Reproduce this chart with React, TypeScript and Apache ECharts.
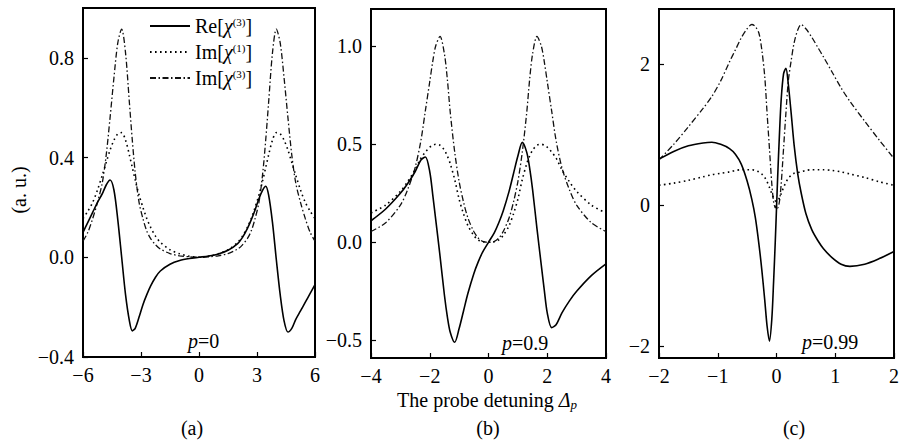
import React, { useEffect, useRef } from 'react';
import * as echarts from 'echarts';

const FONT = 'Liberation Serif, Times New Roman, serif';

const seriesNames = ['Re[χ(3)]', 'Im[χ(1)]', 'Im[χ(3)]'];

// ---------- panel (a), p = 0 ----------
const xA = [-6, -5.75, -5.5, -5.25, -5, -4.8, -4.6, -4.4, -4.2, -4, -3.8, -3.6, -3.45, -3.3, -3.1, -2.9, -2.7, -2.5, -2.25, -2, -1.5, -1, -0.5,
  0, 0.5, 1, 1.5, 2, 2.25, 2.5, 2.7, 2.9, 3.1, 3.3, 3.45, 3.6, 3.8, 4, 4.2, 4.4, 4.6, 4.8, 5, 5.25, 5.5, 5.75, 6];
const reA = [0.10, 0.14, 0.18, 0.22, 0.255, 0.29, 0.31, 0.27, 0.15, 0.0, -0.15, -0.255, -0.295, -0.285, -0.24, -0.19, -0.15, -0.115, -0.08, -0.055, -0.028, -0.013, -0.005,
  0, 0.005, 0.013, 0.028, 0.055, 0.08, 0.115, 0.15, 0.19, 0.235, 0.27, 0.285, 0.25, 0.14, -0.01, -0.15, -0.255, -0.30, -0.285, -0.25, -0.215, -0.18, -0.145, -0.11];
const im1A = [0.155, 0.185, 0.22, 0.27, 0.33, 0.38, 0.43, 0.47, 0.495, 0.50, 0.47, 0.41, 0.36, 0.31, 0.25, 0.20, 0.155, 0.12, 0.085, 0.06, 0.03, 0.014, 0.004,
  0, 0.004, 0.014, 0.03, 0.06, 0.085, 0.12, 0.155, 0.20, 0.25, 0.31, 0.36, 0.41, 0.47, 0.50, 0.495, 0.47, 0.43, 0.38, 0.33, 0.27, 0.22, 0.185, 0.155];
const im3A = [0.065, 0.10, 0.155, 0.22, 0.30, 0.41, 0.56, 0.72, 0.86, 0.915, 0.82, 0.62, 0.47, 0.34, 0.22, 0.155, 0.105, 0.075, 0.05, 0.033, 0.015, 0.006, 0.002,
  0, 0.002, 0.006, 0.015, 0.033, 0.05, 0.075, 0.105, 0.155, 0.22, 0.34, 0.47, 0.62, 0.82, 0.915, 0.86, 0.72, 0.56, 0.41, 0.30, 0.22, 0.155, 0.10, 0.065];

// ---------- panel (b), p = 0.9 ----------
const xB = [-4, -3.5, -3, -2.75, -2.5, -2.3, -2.15, -2, -1.9, -1.8, -1.65, -1.5, -1.4, -1.3, -1.15, -1, -0.85, -0.7, -0.5, -0.35, -0.2,
  0, 0.2, 0.35, 0.5, 0.7, 0.85, 1, 1.15, 1.3, 1.4, 1.5, 1.65, 1.8, 1.9, 2, 2.15, 2.3, 2.5, 2.75, 3, 3.5, 4];
const reB = [0.11, 0.17, 0.25, 0.30, 0.36, 0.42, 0.435, 0.36, 0.245, 0.12, -0.07, -0.27, -0.38, -0.46, -0.51, -0.44, -0.35, -0.26, -0.16, -0.10, -0.05,
  0, 0.05, 0.10, 0.16, 0.26, 0.35, 0.44, 0.51, 0.46, 0.38, 0.27, 0.07, -0.12, -0.245, -0.36, -0.435, -0.42, -0.36, -0.30, -0.25, -0.17, -0.11];
const im1B = [0.15, 0.19, 0.26, 0.31, 0.37, 0.43, 0.46, 0.485, 0.495, 0.50, 0.495, 0.47, 0.44, 0.40, 0.32, 0.22, 0.145, 0.085, 0.035, 0.012, 0.003,
  0, 0.003, 0.012, 0.035, 0.085, 0.145, 0.22, 0.32, 0.40, 0.44, 0.47, 0.495, 0.50, 0.495, 0.485, 0.46, 0.43, 0.37, 0.31, 0.26, 0.19, 0.15];
const im3B = [0.055, 0.10, 0.19, 0.27, 0.38, 0.52, 0.67, 0.82, 0.92, 1.0, 1.05, 0.96, 0.83, 0.66, 0.46, 0.31, 0.205, 0.124, 0.055, 0.022, 0.005,
  0, 0.005, 0.022, 0.055, 0.124, 0.205, 0.31, 0.46, 0.66, 0.83, 0.96, 1.05, 1.0, 0.92, 0.82, 0.67, 0.52, 0.38, 0.27, 0.19, 0.10, 0.055];

// ---------- panel (c), p = 0.99 ----------
const xC = [-2, -1.75, -1.5, -1.25, -1.1, -0.95, -0.8, -0.7, -0.6, -0.5, -0.42, -0.36, -0.3, -0.25, -0.2, -0.16, -0.12, -0.08, -0.05, -0.02,
  0, 0.02, 0.05, 0.08, 0.12, 0.16, 0.2, 0.25, 0.3, 0.36, 0.42, 0.5, 0.6, 0.7, 0.8, 0.95, 1.1, 1.25, 1.5, 1.75, 2];
const reC = [0.65, 0.76, 0.84, 0.88, 0.89, 0.86, 0.80, 0.72, 0.58, 0.34, 0.08, -0.18, -0.55, -0.92, -1.35, -1.72, -1.93, -1.62, -1.1, -0.5,
  -0.05, 0.4, 1.0, 1.5, 1.86, 1.94, 1.72, 1.3, 0.85, 0.45, 0.17, -0.12, -0.35, -0.5, -0.62, -0.75, -0.84, -0.87, -0.84, -0.76, -0.66];
const im1C = [0.28, 0.31, 0.35, 0.40, 0.43, 0.45, 0.47, 0.49, 0.50, 0.50, 0.50, 0.49, 0.47, 0.44, 0.39, 0.33, 0.25, 0.16, 0.10, 0.06,
  0.05, 0.06, 0.10, 0.16, 0.25, 0.32, 0.38, 0.42, 0.45, 0.46, 0.47, 0.49, 0.50, 0.50, 0.50, 0.49, 0.47, 0.44, 0.39, 0.33, 0.28];
const im3C = [0.64, 0.86, 1.11, 1.37, 1.54, 1.76, 2.03, 2.2, 2.37, 2.5, 2.56, 2.53, 2.44, 2.2, 1.82, 1.3, 0.8, 0.3, 0.05, -0.04,
  0.0, -0.04, 0.05, 0.3, 0.8, 1.3, 1.75, 2.05, 2.3, 2.48, 2.56, 2.5, 2.38, 2.24, 2.1, 1.88, 1.66, 1.47, 1.19, 0.92, 0.66];

// tick values
const xTicksA = [-6, -3, 0, 3, 6];
const yTicksA = [-0.4, 0, 0.4, 0.8];
const xTicksB = [-4, -2, 0, 2, 4];
const yTicksB = [-0.5, 0, 0.5, 1.0];
const xTicksC = [-2, -1, 0, 1, 2];
const yTicksC = [-2, 0, 2];

const panelTags = ['(a)', '(b)', '(c)'];
const pLabels = ['0', '0.9', '0.99'];

const zip = (xs: number[], ys: number[]) => xs.map((x, i) => [x, ys[i]]);
const fmt = (digits: number) => (v: number) => {
  const s = Math.abs(v).toFixed(digits);
  return v < 0 ? '\u2212' + s : s;
};

const lineStyles = [
  { color: '#000', width: 1.6, type: 'solid' },
  { color: '#000', width: 1.6, type: [1.6, 3.4], cap: 'butt' },
  { color: '#111', width: 1.3, type: [6, 2.5, 1.5, 2.5], cap: 'butt' },
];

function xAxis(gi: number, min: number, max: number, ticks: number[]) {
  return {
    gridIndex: gi, type: 'value', min, max,
    axisLine: { show: false, onZero: false },
    splitLine: { show: false },
    axisTick: { show: true, inside: true, length: 5, customValues: ticks, lineStyle: { color: '#000', width: 1.2 } },
    axisLabel: { customValues: ticks, formatter: fmt(0), margin: 8, color: '#000', fontFamily: FONT, fontSize: 20 },
  };
}
function yAxis(gi: number, min: number, max: number, ticks: number[], digits: number) {
  return {
    gridIndex: gi, type: 'value', min, max,
    axisLine: { show: false, onZero: false },
    splitLine: { show: false },
    axisTick: { show: true, inside: true, length: 5, customValues: ticks, lineStyle: { color: '#000', width: 1.2 } },
    axisLabel: { customValues: ticks, formatter: fmt(digits), margin: 9, color: '#000', fontFamily: FONT, fontSize: 20 },
  };
}

function makeSeries(gi: number, xs: number[], ys: number[][]) {
  return ys.map((y, k) => ({
    name: seriesNames[k],
    type: 'line',
    xAxisIndex: gi,
    yAxisIndex: gi,
    data: zip(xs, y),
    smooth: 0.3,
    symbol: 'none',
    showSymbol: false,
    color: '#000',
    itemStyle: { color: '#000' },
    lineStyle: lineStyles[k],
    z: 3 - k,
  }));
}

const legendRich: Record<string, string> = {
  'Re[χ(3)]': 'Re[{i|χ}{sup|(3)}]',
  'Im[χ(1)]': 'Im[{i|χ}{sup|(1)}]',
  'Im[χ(3)]': 'Im[{i|χ}{sup|(3)}]',
};

export default function App() {
  const ref = useRef<HTMLDivElement>(null);
  useEffect(() => {
    if (!ref.current) return;
    const chart = echarts.init(ref.current, undefined, { renderer: 'svg' });
    const grids = [
      { left: 83, top: 8, width: 232, height: 349 },
      { left: 371, top: 9, width: 235, height: 349 },
      { left: 659, top: 9, width: 235, height: 349 },
    ].map((g) => ({ ...g, show: true, borderColor: '#000', borderWidth: 2, backgroundColor: 'transparent', outerBoundsMode: 'none', containLabel: false }));

    const textBase = { fill: '#000', fontFamily: FONT, fontSize: 20 };
    const italic = { fontStyle: 'italic', fontFamily: FONT, fontSize: 20, fill: '#000' };
    const upright = { fontFamily: FONT, fontSize: 20, fill: '#000' };
    const tagX = [192, 488, 794];
    const pPos = [[188, 341], [502, 343], [802, 342]];

    const option: any = {
      animation: false,
      backgroundColor: '#fff',
      color: ['#000', '#000', '#000'],
      textStyle: { fontFamily: FONT, color: '#000' },
      grid: grids,
      xAxis: [xAxis(0, -6, 6, xTicksA), xAxis(1, -4, 4, xTicksB), xAxis(2, -2, 2, xTicksC)],
      yAxis: [yAxis(0, -0.4, 1.0, yTicksA, 1), yAxis(1, -0.59, 1.19, yTicksB, 1), yAxis(2, -2.17, 2.78, yTicksC, 0)],
      legend: {
        data: seriesNames,
        orient: 'vertical',
        left: 149,
        top: 16,
        padding: 0,
        itemWidth: 40,
        itemHeight: 14,
        itemGap: 6,
        selectedMode: false,
        itemStyle: { opacity: 0 },
        formatter: (n: string) => legendRich[n],
        textStyle: {
          color: '#000', fontFamily: FONT, fontSize: 20,
          rich: {
            i: { fontStyle: 'italic', fontFamily: FONT, fontSize: 20, color: '#000' },
            sup: { fontFamily: FONT, fontSize: 11, color: '#000', padding: [0, 0, 9, 0] },
          },
        },
      },
      series: [
        ...makeSeries(0, xA, [reA, im1A, im3A]),
        ...makeSeries(1, xB, [reB, im1B, im3B]),
        ...makeSeries(2, xC, [reC, im1C, im3C]),
      ],
      graphic: [
        { type: 'text', x: 19, y: 190, rotation: Math.PI / 2, style: { ...textBase, text: '(a. u.)', align: 'center', verticalAlign: 'middle' } },
        {
          type: 'text', x: 487, y: 400,
          style: {
            ...textBase, text: '{r|The probe detuning }{d|Δ}{s|p}', align: 'center', verticalAlign: 'middle',
            rich: {
              r: { ...upright },
              d: { ...italic },
              s: { ...italic, fontSize: 13, padding: [9, 0, 0, 0] },
            },
          },
        },
        ...panelTags.map((t, i) => ({ type: 'text', x: tagX[i], y: 428, style: { ...textBase, text: t, align: 'center', verticalAlign: 'middle' } })),
        ...pLabels.map((p, i) => ({
          type: 'text', x: pPos[i][0], y: pPos[i][1],
          style: { ...textBase, text: '{i|p}{r|=' + p + '}', align: 'left', verticalAlign: 'middle', rich: { i: { ...italic }, r: { ...upright } } },
        })),
      ],
    };
    chart.setOption(option);
    return () => chart.dispose();
  }, []);
  return <div ref={ref} style={{ position: 'absolute', left: 0, top: 0, width: 900, height: 442 }} />;
}
